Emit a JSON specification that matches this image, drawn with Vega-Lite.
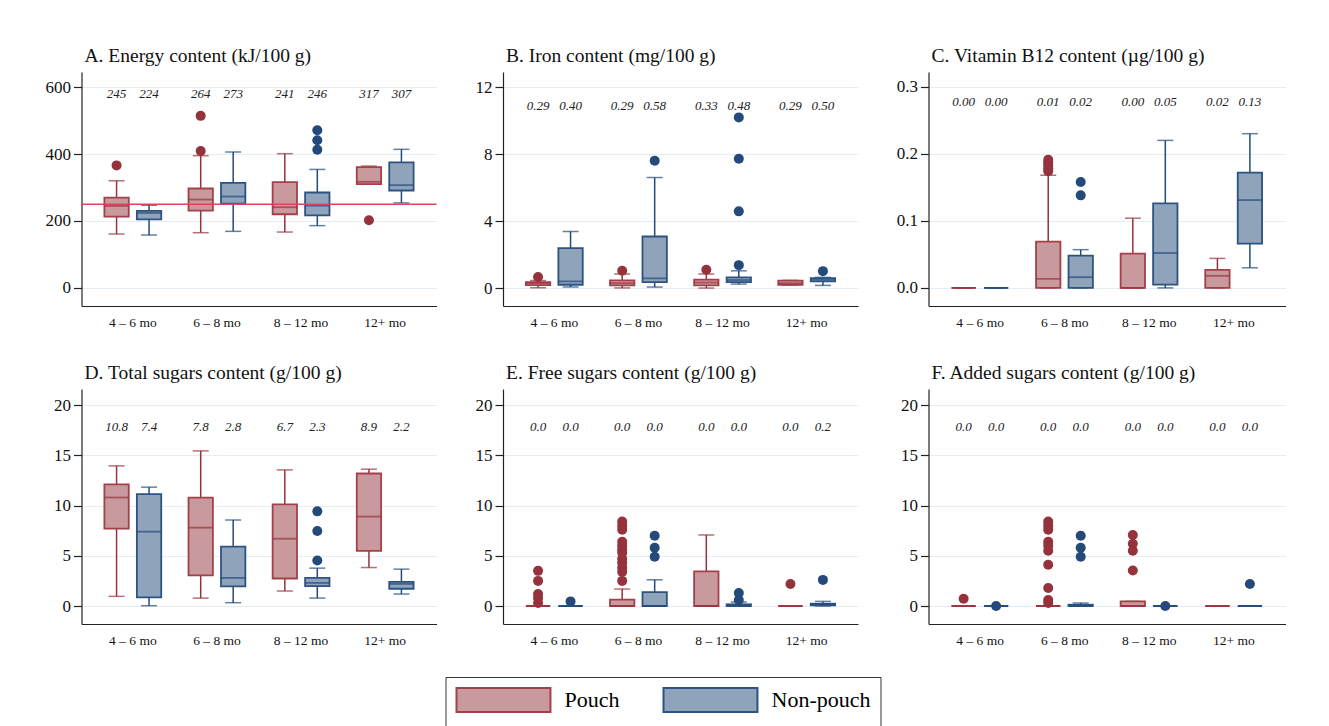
{
  "$schema": "https://vega.github.io/schema/vega-lite/v6.json",
  "background": "white",
  "padding": {"left": 44.5, "top": 45, "right": 10, "bottom": 5},
  "datasets": {
    "boxes": [
      {"panel": "A", "age": "4 – 6 mo", "type": "Pouch", "lo": 161, "q1": 213, "med": 245, "q3": 270, "hi": 320, "label": "245"},
      {"panel": "A", "age": "4 – 6 mo", "type": "Non-pouch", "lo": 158, "q1": 205, "med": 224, "q3": 230, "hi": 247, "label": "224"},
      {"panel": "A", "age": "6 – 8 mo", "type": "Pouch", "lo": 165, "q1": 231, "med": 264, "q3": 297, "hi": 395, "label": "264"},
      {"panel": "A", "age": "6 – 8 mo", "type": "Non-pouch", "lo": 169, "q1": 252, "med": 273, "q3": 314, "hi": 406, "label": "273"},
      {"panel": "A", "age": "8 – 12 mo", "type": "Pouch", "lo": 167, "q1": 220, "med": 241, "q3": 316, "hi": 401, "label": "241"},
      {"panel": "A", "age": "8 – 12 mo", "type": "Non-pouch", "lo": 186, "q1": 217, "med": 246, "q3": 285, "hi": 354, "label": "246"},
      {"panel": "A", "age": "12+ mo", "type": "Pouch", "lo": 310, "q1": 310, "med": 317, "q3": 361, "hi": 364, "label": "317"},
      {"panel": "A", "age": "12+ mo", "type": "Non-pouch", "lo": 254, "q1": 291, "med": 307, "q3": 375, "hi": 414, "label": "307"},

      {"panel": "B", "age": "4 – 6 mo", "type": "Pouch", "lo": 0.02, "q1": 0.18, "med": 0.29, "q3": 0.36, "hi": 0.45, "label": "0.29"},
      {"panel": "B", "age": "4 – 6 mo", "type": "Non-pouch", "lo": 0.06, "q1": 0.2, "med": 0.4, "q3": 2.39, "hi": 3.38, "label": "0.40"},
      {"panel": "B", "age": "6 – 8 mo", "type": "Pouch", "lo": 0.01, "q1": 0.16, "med": 0.29, "q3": 0.46, "hi": 0.84, "label": "0.29"},
      {"panel": "B", "age": "6 – 8 mo", "type": "Non-pouch", "lo": 0.06, "q1": 0.36, "med": 0.58, "q3": 3.08, "hi": 6.6, "label": "0.58"},
      {"panel": "B", "age": "8 – 12 mo", "type": "Pouch", "lo": 0.0, "q1": 0.16, "med": 0.33, "q3": 0.5, "hi": 0.84, "label": "0.33"},
      {"panel": "B", "age": "8 – 12 mo", "type": "Non-pouch", "lo": 0.24, "q1": 0.36, "med": 0.48, "q3": 0.64, "hi": 1.03, "label": "0.48"},
      {"panel": "B", "age": "12+ mo", "type": "Pouch", "lo": 0.18, "q1": 0.2, "med": 0.29, "q3": 0.44, "hi": 0.46, "label": "0.29"},
      {"panel": "B", "age": "12+ mo", "type": "Non-pouch", "lo": 0.16, "q1": 0.4, "med": 0.5, "q3": 0.6, "hi": 0.64, "label": "0.50"},

      {"panel": "C", "age": "4 – 6 mo", "type": "Pouch", "lo": 0, "q1": 0, "med": 0, "q3": 0, "hi": 0, "label": "0.00"},
      {"panel": "C", "age": "4 – 6 mo", "type": "Non-pouch", "lo": 0, "q1": 0, "med": 0, "q3": 0, "hi": 0, "label": "0.00"},
      {"panel": "C", "age": "6 – 8 mo", "type": "Pouch", "lo": 0, "q1": 0, "med": 0.0134, "q3": 0.069, "hi": 0.168, "label": "0.01"},
      {"panel": "C", "age": "6 – 8 mo", "type": "Non-pouch", "lo": 0, "q1": 0, "med": 0.016, "q3": 0.048, "hi": 0.057, "label": "0.02"},
      {"panel": "C", "age": "8 – 12 mo", "type": "Pouch", "lo": 0, "q1": 0, "med": 0, "q3": 0.051, "hi": 0.104, "label": "0.00"},
      {"panel": "C", "age": "8 – 12 mo", "type": "Non-pouch", "lo": 0, "q1": 0.005, "med": 0.052, "q3": 0.126, "hi": 0.22, "label": "0.05"},
      {"panel": "C", "age": "12+ mo", "type": "Pouch", "lo": 0, "q1": 0, "med": 0.018, "q3": 0.027, "hi": 0.044, "label": "0.02"},
      {"panel": "C", "age": "12+ mo", "type": "Non-pouch", "lo": 0.03, "q1": 0.066, "med": 0.131, "q3": 0.172, "hi": 0.23, "label": "0.13"},

      {"panel": "D", "age": "4 – 6 mo", "type": "Pouch", "lo": 0.96, "q1": 7.7, "med": 10.8, "q3": 12.1, "hi": 13.95, "label": "10.8"},
      {"panel": "D", "age": "4 – 6 mo", "type": "Non-pouch", "lo": 0.03, "q1": 0.86, "med": 7.4, "q3": 11.14, "hi": 11.83, "label": "7.4"},
      {"panel": "D", "age": "6 – 8 mo", "type": "Pouch", "lo": 0.79, "q1": 3.04, "med": 7.8, "q3": 10.78, "hi": 15.44, "label": "7.8"},
      {"panel": "D", "age": "6 – 8 mo", "type": "Non-pouch", "lo": 0.33, "q1": 1.95, "med": 2.8, "q3": 5.92, "hi": 8.56, "label": "2.8"},
      {"panel": "D", "age": "8 – 12 mo", "type": "Pouch", "lo": 1.49, "q1": 2.74, "med": 6.7, "q3": 10.12, "hi": 13.55, "label": "6.7"},
      {"panel": "D", "age": "8 – 12 mo", "type": "Non-pouch", "lo": 0.79, "q1": 1.98, "med": 2.3, "q3": 2.81, "hi": 3.77, "label": "2.3"},
      {"panel": "D", "age": "12+ mo", "type": "Pouch", "lo": 3.83, "q1": 5.49, "med": 8.9, "q3": 13.19, "hi": 13.62, "label": "8.9"},
      {"panel": "D", "age": "12+ mo", "type": "Non-pouch", "lo": 1.19, "q1": 1.72, "med": 2.2, "q3": 2.41, "hi": 3.67, "label": "2.2"},

      {"panel": "E", "age": "4 – 6 mo", "type": "Pouch", "lo": 0, "q1": 0, "med": 0, "q3": 0, "hi": 0, "label": "0.0"},
      {"panel": "E", "age": "4 – 6 mo", "type": "Non-pouch", "lo": 0, "q1": 0, "med": 0, "q3": 0, "hi": 0, "label": "0.0"},
      {"panel": "E", "age": "6 – 8 mo", "type": "Pouch", "lo": 0, "q1": 0, "med": 0, "q3": 0.63, "hi": 1.69, "label": "0.0"},
      {"panel": "E", "age": "6 – 8 mo", "type": "Non-pouch", "lo": 0, "q1": 0, "med": 0, "q3": 1.39, "hi": 2.61, "label": "0.0"},
      {"panel": "E", "age": "8 – 12 mo", "type": "Pouch", "lo": 0, "q1": 0, "med": 0, "q3": 3.44, "hi": 7.07, "label": "0.0"},
      {"panel": "E", "age": "8 – 12 mo", "type": "Non-pouch", "lo": 0, "q1": 0, "med": 0, "q3": 0.17, "hi": 0.4, "label": "0.0"},
      {"panel": "E", "age": "12+ mo", "type": "Pouch", "lo": 0, "q1": 0, "med": 0, "q3": 0, "hi": 0, "label": "0.0"},
      {"panel": "E", "age": "12+ mo", "type": "Non-pouch", "lo": 0, "q1": 0.07, "med": 0.2, "q3": 0.23, "hi": 0.46, "label": "0.2"},

      {"panel": "F", "age": "4 – 6 mo", "type": "Pouch", "lo": 0, "q1": 0, "med": 0, "q3": 0, "hi": 0, "label": "0.0"},
      {"panel": "F", "age": "4 – 6 mo", "type": "Non-pouch", "lo": 0, "q1": 0, "med": 0, "q3": 0, "hi": 0, "label": "0.0"},
      {"panel": "F", "age": "6 – 8 mo", "type": "Pouch", "lo": 0, "q1": 0, "med": 0, "q3": 0, "hi": 0, "label": "0.0"},
      {"panel": "F", "age": "6 – 8 mo", "type": "Non-pouch", "lo": 0, "q1": 0, "med": 0, "q3": 0.13, "hi": 0.3, "label": "0.0"},
      {"panel": "F", "age": "8 – 12 mo", "type": "Pouch", "lo": 0, "q1": 0, "med": 0, "q3": 0.46, "hi": 0.46, "label": "0.0"},
      {"panel": "F", "age": "8 – 12 mo", "type": "Non-pouch", "lo": 0, "q1": 0, "med": 0, "q3": 0, "hi": 0, "label": "0.0"},
      {"panel": "F", "age": "12+ mo", "type": "Pouch", "lo": 0, "q1": 0, "med": 0, "q3": 0, "hi": 0, "label": "0.0"},
      {"panel": "F", "age": "12+ mo", "type": "Non-pouch", "lo": 0, "q1": 0, "med": 0, "q3": 0, "hi": 0, "label": "0.0"}
    ],
    "outliers": [
      {"panel": "A", "age": "4 – 6 mo", "type": "Pouch", "value": 366},
      {"panel": "A", "age": "6 – 8 mo", "type": "Pouch", "value": 514},
      {"panel": "A", "age": "6 – 8 mo", "type": "Pouch", "value": 409},
      {"panel": "A", "age": "8 – 12 mo", "type": "Non-pouch", "value": 471},
      {"panel": "A", "age": "8 – 12 mo", "type": "Non-pouch", "value": 441},
      {"panel": "A", "age": "8 – 12 mo", "type": "Non-pouch", "value": 413},
      {"panel": "A", "age": "12+ mo", "type": "Pouch", "value": 202},

      {"panel": "B", "age": "4 – 6 mo", "type": "Pouch", "value": 0.66},
      {"panel": "B", "age": "6 – 8 mo", "type": "Pouch", "value": 1.03},
      {"panel": "B", "age": "6 – 8 mo", "type": "Non-pouch", "value": 7.6},
      {"panel": "B", "age": "8 – 12 mo", "type": "Pouch", "value": 1.09},
      {"panel": "B", "age": "8 – 12 mo", "type": "Non-pouch", "value": 10.19},
      {"panel": "B", "age": "8 – 12 mo", "type": "Non-pouch", "value": 7.72},
      {"panel": "B", "age": "8 – 12 mo", "type": "Non-pouch", "value": 4.58},
      {"panel": "B", "age": "8 – 12 mo", "type": "Non-pouch", "value": 1.37},
      {"panel": "B", "age": "12+ mo", "type": "Non-pouch", "value": 1.01},

      {"panel": "C", "age": "6 – 8 mo", "type": "Pouch", "value": 0.191},
      {"panel": "C", "age": "6 – 8 mo", "type": "Pouch", "value": 0.187},
      {"panel": "C", "age": "6 – 8 mo", "type": "Pouch", "value": 0.183},
      {"panel": "C", "age": "6 – 8 mo", "type": "Pouch", "value": 0.178},
      {"panel": "C", "age": "6 – 8 mo", "type": "Pouch", "value": 0.174},
      {"panel": "C", "age": "6 – 8 mo", "type": "Non-pouch", "value": 0.158},
      {"panel": "C", "age": "6 – 8 mo", "type": "Non-pouch", "value": 0.138},

      {"panel": "D", "age": "8 – 12 mo", "type": "Non-pouch", "value": 9.42},
      {"panel": "D", "age": "8 – 12 mo", "type": "Non-pouch", "value": 7.47},
      {"panel": "D", "age": "8 – 12 mo", "type": "Non-pouch", "value": 4.53},

      {"panel": "E", "age": "4 – 6 mo", "type": "Pouch", "value": 3.5},
      {"panel": "E", "age": "4 – 6 mo", "type": "Pouch", "value": 2.5},
      {"panel": "E", "age": "4 – 6 mo", "type": "Pouch", "value": 1.2},
      {"panel": "E", "age": "4 – 6 mo", "type": "Pouch", "value": 0.8},
      {"panel": "E", "age": "4 – 6 mo", "type": "Pouch", "value": 0.3},
      {"panel": "E", "age": "4 – 6 mo", "type": "Non-pouch", "value": 0.46},
      {"panel": "E", "age": "6 – 8 mo", "type": "Pouch", "value": 8.4},
      {"panel": "E", "age": "6 – 8 mo", "type": "Pouch", "value": 8.0},
      {"panel": "E", "age": "6 – 8 mo", "type": "Pouch", "value": 7.6},
      {"panel": "E", "age": "6 – 8 mo", "type": "Pouch", "value": 6.4},
      {"panel": "E", "age": "6 – 8 mo", "type": "Pouch", "value": 6.0},
      {"panel": "E", "age": "6 – 8 mo", "type": "Pouch", "value": 5.6},
      {"panel": "E", "age": "6 – 8 mo", "type": "Pouch", "value": 5.3},
      {"panel": "E", "age": "6 – 8 mo", "type": "Pouch", "value": 4.7},
      {"panel": "E", "age": "6 – 8 mo", "type": "Pouch", "value": 4.3},
      {"panel": "E", "age": "6 – 8 mo", "type": "Pouch", "value": 3.8},
      {"panel": "E", "age": "6 – 8 mo", "type": "Pouch", "value": 3.4},
      {"panel": "E", "age": "6 – 8 mo", "type": "Pouch", "value": 2.5},
      {"panel": "E", "age": "6 – 8 mo", "type": "Non-pouch", "value": 7.0},
      {"panel": "E", "age": "6 – 8 mo", "type": "Non-pouch", "value": 5.8},
      {"panel": "E", "age": "6 – 8 mo", "type": "Non-pouch", "value": 4.9},
      {"panel": "E", "age": "8 – 12 mo", "type": "Non-pouch", "value": 1.3},
      {"panel": "E", "age": "8 – 12 mo", "type": "Non-pouch", "value": 0.6},
      {"panel": "E", "age": "12+ mo", "type": "Pouch", "value": 2.2},
      {"panel": "E", "age": "12+ mo", "type": "Non-pouch", "value": 2.6},

      {"panel": "F", "age": "4 – 6 mo", "type": "Pouch", "value": 0.73},
      {"panel": "F", "age": "4 – 6 mo", "type": "Non-pouch", "value": 0.0},
      {"panel": "F", "age": "6 – 8 mo", "type": "Pouch", "value": 8.4},
      {"panel": "F", "age": "6 – 8 mo", "type": "Pouch", "value": 8.0},
      {"panel": "F", "age": "6 – 8 mo", "type": "Pouch", "value": 7.6},
      {"panel": "F", "age": "6 – 8 mo", "type": "Pouch", "value": 6.4},
      {"panel": "F", "age": "6 – 8 mo", "type": "Pouch", "value": 6.0},
      {"panel": "F", "age": "6 – 8 mo", "type": "Pouch", "value": 5.5},
      {"panel": "F", "age": "6 – 8 mo", "type": "Pouch", "value": 4.1},
      {"panel": "F", "age": "6 – 8 mo", "type": "Pouch", "value": 1.8},
      {"panel": "F", "age": "6 – 8 mo", "type": "Pouch", "value": 0.6},
      {"panel": "F", "age": "6 – 8 mo", "type": "Pouch", "value": 0.3},
      {"panel": "F", "age": "6 – 8 mo", "type": "Non-pouch", "value": 7.0},
      {"panel": "F", "age": "6 – 8 mo", "type": "Non-pouch", "value": 5.8},
      {"panel": "F", "age": "6 – 8 mo", "type": "Non-pouch", "value": 4.9},
      {"panel": "F", "age": "8 – 12 mo", "type": "Pouch", "value": 7.07},
      {"panel": "F", "age": "8 – 12 mo", "type": "Pouch", "value": 6.2},
      {"panel": "F", "age": "8 – 12 mo", "type": "Pouch", "value": 5.5},
      {"panel": "F", "age": "8 – 12 mo", "type": "Pouch", "value": 3.54},
      {"panel": "F", "age": "8 – 12 mo", "type": "Non-pouch", "value": 0.0},
      {"panel": "F", "age": "12+ mo", "type": "Non-pouch", "value": 2.2}
    ]
  },
  "columns": 3,
  "spacing": {"row": 33, "column": 37.5},
  "concat": [
    {
      "title": "A. Energy content (kJ/100 g)",
      "width": 355, "height": 234,
      "layer": [
        {
          "data": {"name": "boxes"},
          "transform": [{"filter": "datum.panel == 'A'"}],
          "encoding": {
            "x": {"field": "age", "type": "nominal", "sort": ["4 – 6 mo", "6 – 8 mo", "8 – 12 mo", "12+ mo"], "scale": {"paddingInner": 0, "paddingOuter": 0.11}, "title": null},
            "xOffset": {"field": "type", "type": "nominal", "sort": ["Pouch", "Non-pouch"], "scale": {"paddingInner": 0.25, "paddingOuter": 0.42}}
          },
          "layer": [
            {"mark": {"type": "rule", "strokeWidth": 1.5}, "encoding": {"y": {"field": "lo", "type": "quantitative", "title": null, "scale": {"domain": [-54, 645], "nice": false, "zero": false}, "axis": {"values": [0, 200, 400, 600]}}, "y2": {"field": "hi"}, "color": {"field": "type", "type": "nominal", "scale": {"domain": ["Non-pouch", "Pouch"], "range": ["#234a7a", "#95333d"]}, "legend": null}}},
            {"mark": {"type": "tick", "size": 16, "thickness": 1.5}, "encoding": {"y": {"field": "lo", "type": "quantitative", "title": null}, "color": {"field": "type", "type": "nominal", "legend": null}}},
            {"mark": {"type": "tick", "size": 16, "thickness": 1.5}, "encoding": {"y": {"field": "hi", "type": "quantitative", "title": null}, "color": {"field": "type", "type": "nominal", "legend": null}}},
            {"mark": {"type": "bar", "strokeWidth": 1.8}, "encoding": {"y": {"field": "q1", "type": "quantitative", "title": null}, "y2": {"field": "q3"},
              "fill": {"field": "type", "type": "nominal", "scale": {"domain": ["Pouch", "Non-pouch"], "range": ["#c89a9e", "#8fa4ba"]}, "legend": {"title": null, "orient": "none", "legendX": 364, "legendY": 605, "direction": "horizontal", "columns": 2, "symbolType": "M-1,-1H6.83V1H-1Z", "symbolSize": 576, "symbolStrokeWidth": 2, "labelFontSize": 22, "labelFont": "Liberation Serif", "labelColor": "#000", "labelOffset": 83, "columnPadding": 40, "padding": 10, "strokeColor": "#333", "labelLimit": 0}},
              "stroke": {"field": "type", "type": "nominal", "scale": {"domain": ["Pouch", "Non-pouch"], "range": ["#a3404a", "#2c5384"]}, "legend": {"title": null, "orient": "none", "legendX": 364, "legendY": 605, "direction": "horizontal", "columns": 2, "symbolType": "M-1,-1H6.83V1H-1Z", "symbolSize": 576, "symbolStrokeWidth": 2, "labelFontSize": 22, "labelFont": "Liberation Serif", "labelColor": "#000", "labelOffset": 83, "columnPadding": 40, "padding": 10, "strokeColor": "#333", "labelLimit": 0}}}},
            {"mark": {"type": "tick", "size": 24, "thickness": 1.8}, "encoding": {"y": {"field": "med", "type": "quantitative", "title": null}, "color": {"field": "type", "type": "nominal", "legend": null}}},
            {"mark": {"type": "text", "fontStyle": "italic", "fontSize": 13, "color": "#222"}, "encoding": {"y": {"datum": 579, "type": "quantitative"}, "text": {"field": "label"}}}
          ]
        },
        {
          "data": {"name": "outliers"},
          "transform": [{"filter": "datum.panel == 'A'"}],
          "mark": {"type": "circle", "size": 100, "opacity": 1},
          "encoding": {
            "x": {"field": "age", "type": "nominal", "sort": ["4 – 6 mo", "6 – 8 mo", "8 – 12 mo", "12+ mo"], "title": null},
            "xOffset": {"field": "type", "type": "nominal", "sort": ["Pouch", "Non-pouch"]},
            "y": {"field": "value", "type": "quantitative", "title": null},
            "color": {"field": "type", "type": "nominal", "legend": null}
          }
        },
        {
          "data": {"values": [{"reference": 250}]},
          "mark": {"type": "rule", "color": "#d8475a", "strokeWidth": 1.6},
          "encoding": {"y": {"field": "reference", "type": "quantitative", "title": null}}
        }
      ]
    },
    {
      "title": "B. Iron content (mg/100 g)",
      "width": 355, "height": 234,
      "layer": [
        {
          "data": {"name": "boxes"},
          "transform": [{"filter": "datum.panel == 'B'"}],
          "encoding": {
            "x": {"field": "age", "type": "nominal", "sort": ["4 – 6 mo", "6 – 8 mo", "8 – 12 mo", "12+ mo"], "scale": {"paddingInner": 0, "paddingOuter": 0.11}, "title": null},
            "xOffset": {"field": "type", "type": "nominal", "sort": ["Pouch", "Non-pouch"], "scale": {"paddingInner": 0.25, "paddingOuter": 0.42}}
          },
          "layer": [
            {"mark": {"type": "rule", "strokeWidth": 1.5}, "encoding": {"y": {"field": "lo", "type": "quantitative", "title": null, "scale": {"domain": [-1.07, 12.9], "nice": false, "zero": false}, "axis": {"values": [0, 2, 4, 6, 8, 10, 12]}}, "y2": {"field": "hi"}, "color": {"field": "type", "type": "nominal", "legend": null}}},
            {"mark": {"type": "tick", "size": 16, "thickness": 1.5}, "encoding": {"y": {"field": "lo", "type": "quantitative", "title": null}, "color": {"field": "type", "type": "nominal", "legend": null}}},
            {"mark": {"type": "tick", "size": 16, "thickness": 1.5}, "encoding": {"y": {"field": "hi", "type": "quantitative", "title": null}, "color": {"field": "type", "type": "nominal", "legend": null}}},
            {"mark": {"type": "bar", "strokeWidth": 1.8}, "encoding": {"y": {"field": "q1", "type": "quantitative", "title": null}, "y2": {"field": "q3"}, "fill": {"field": "type", "type": "nominal"}, "stroke": {"field": "type", "type": "nominal"}}},
            {"mark": {"type": "tick", "size": 24, "thickness": 1.8}, "encoding": {"y": {"field": "med", "type": "quantitative", "title": null}, "color": {"field": "type", "type": "nominal", "legend": null}}},
            {"mark": {"type": "text", "fontStyle": "italic", "fontSize": 13, "color": "#222"}, "encoding": {"y": {"datum": 10.87, "type": "quantitative"}, "text": {"field": "label"}}}
          ]
        },
        {
          "data": {"name": "outliers"},
          "transform": [{"filter": "datum.panel == 'B'"}],
          "mark": {"type": "circle", "size": 100, "opacity": 1},
          "encoding": {
            "x": {"field": "age", "type": "nominal", "sort": ["4 – 6 mo", "6 – 8 mo", "8 – 12 mo", "12+ mo"], "title": null},
            "xOffset": {"field": "type", "type": "nominal", "sort": ["Pouch", "Non-pouch"]},
            "y": {"field": "value", "type": "quantitative", "title": null},
            "color": {"field": "type", "type": "nominal", "legend": null}
          }
        }
      ]
    },
    {
      "title": "C. Vitamin B12 content (µg/100 g)",
      "width": 357, "height": 234,
      "layer": [
        {
          "data": {"name": "boxes"},
          "transform": [{"filter": "datum.panel == 'C'"}],
          "encoding": {
            "x": {"field": "age", "type": "nominal", "sort": ["4 – 6 mo", "6 – 8 mo", "8 – 12 mo", "12+ mo"], "scale": {"paddingInner": 0, "paddingOuter": 0.11}, "title": null},
            "xOffset": {"field": "type", "type": "nominal", "sort": ["Pouch", "Non-pouch"], "scale": {"paddingInner": 0.25, "paddingOuter": 0.42}}
          },
          "layer": [
            {"mark": {"type": "rule", "strokeWidth": 1.5}, "encoding": {"y": {"field": "lo", "type": "quantitative", "title": null, "scale": {"domain": [-0.027, 0.322], "nice": false, "zero": false}, "axis": {"values": [0, 0.1, 0.2, 0.3], "format": ".1f"}}, "y2": {"field": "hi"}, "color": {"field": "type", "type": "nominal", "legend": null}}},
            {"mark": {"type": "tick", "size": 16, "thickness": 1.5}, "encoding": {"y": {"field": "lo", "type": "quantitative", "title": null}, "color": {"field": "type", "type": "nominal", "legend": null}}},
            {"mark": {"type": "tick", "size": 16, "thickness": 1.5}, "encoding": {"y": {"field": "hi", "type": "quantitative", "title": null}, "color": {"field": "type", "type": "nominal", "legend": null}}},
            {"mark": {"type": "bar", "strokeWidth": 1.8}, "encoding": {"y": {"field": "q1", "type": "quantitative", "title": null}, "y2": {"field": "q3"}, "fill": {"field": "type", "type": "nominal"}, "stroke": {"field": "type", "type": "nominal"}}},
            {"mark": {"type": "tick", "size": 24, "thickness": 1.8}, "encoding": {"y": {"field": "med", "type": "quantitative", "title": null}, "color": {"field": "type", "type": "nominal", "legend": null}}},
            {"mark": {"type": "text", "fontStyle": "italic", "fontSize": 13, "color": "#222"}, "encoding": {"y": {"datum": 0.278, "type": "quantitative"}, "text": {"field": "label"}}}
          ]
        },
        {
          "data": {"name": "outliers"},
          "transform": [{"filter": "datum.panel == 'C'"}],
          "mark": {"type": "circle", "size": 100, "opacity": 1},
          "encoding": {
            "x": {"field": "age", "type": "nominal", "sort": ["4 – 6 mo", "6 – 8 mo", "8 – 12 mo", "12+ mo"], "title": null},
            "xOffset": {"field": "type", "type": "nominal", "sort": ["Pouch", "Non-pouch"]},
            "y": {"field": "value", "type": "quantitative", "title": null},
            "color": {"field": "type", "type": "nominal", "legend": null}
          }
        }
      ]
    },
    {
      "title": "D. Total sugars content (g/100 g)",
      "width": 355, "height": 235,
      "layer": [
        {
          "data": {"name": "boxes"},
          "transform": [{"filter": "datum.panel == 'D'"}],
          "encoding": {
            "x": {"field": "age", "type": "nominal", "sort": ["4 – 6 mo", "6 – 8 mo", "8 – 12 mo", "12+ mo"], "scale": {"paddingInner": 0, "paddingOuter": 0.11}, "title": null},
            "xOffset": {"field": "type", "type": "nominal", "sort": ["Pouch", "Non-pouch"], "scale": {"paddingInner": 0.25, "paddingOuter": 0.42}}
          },
          "layer": [
            {"mark": {"type": "rule", "strokeWidth": 1.5}, "encoding": {"y": {"field": "lo", "type": "quantitative", "title": null, "scale": {"domain": [-1.79, 21.6], "nice": false, "zero": false}, "axis": {"values": [0, 5, 10, 15, 20]}}, "y2": {"field": "hi"}, "color": {"field": "type", "type": "nominal", "legend": null}}},
            {"mark": {"type": "tick", "size": 16, "thickness": 1.5}, "encoding": {"y": {"field": "lo", "type": "quantitative", "title": null}, "color": {"field": "type", "type": "nominal", "legend": null}}},
            {"mark": {"type": "tick", "size": 16, "thickness": 1.5}, "encoding": {"y": {"field": "hi", "type": "quantitative", "title": null}, "color": {"field": "type", "type": "nominal", "legend": null}}},
            {"mark": {"type": "bar", "strokeWidth": 1.8}, "encoding": {"y": {"field": "q1", "type": "quantitative", "title": null}, "y2": {"field": "q3"}, "fill": {"field": "type", "type": "nominal"}, "stroke": {"field": "type", "type": "nominal"}}},
            {"mark": {"type": "tick", "size": 24, "thickness": 1.8}, "encoding": {"y": {"field": "med", "type": "quantitative", "title": null}, "color": {"field": "type", "type": "nominal", "legend": null}}},
            {"mark": {"type": "text", "fontStyle": "italic", "fontSize": 13, "color": "#222"}, "encoding": {"y": {"datum": 17.8, "type": "quantitative"}, "text": {"field": "label"}}}
          ]
        },
        {
          "data": {"name": "outliers"},
          "transform": [{"filter": "datum.panel == 'D'"}],
          "mark": {"type": "circle", "size": 100, "opacity": 1},
          "encoding": {
            "x": {"field": "age", "type": "nominal", "sort": ["4 – 6 mo", "6 – 8 mo", "8 – 12 mo", "12+ mo"], "title": null},
            "xOffset": {"field": "type", "type": "nominal", "sort": ["Pouch", "Non-pouch"]},
            "y": {"field": "value", "type": "quantitative", "title": null},
            "color": {"field": "type", "type": "nominal", "legend": null}
          }
        }
      ]
    },
    {
      "title": "E. Free sugars content (g/100 g)",
      "width": 355, "height": 235,
      "layer": [
        {
          "data": {"name": "boxes"},
          "transform": [{"filter": "datum.panel == 'E'"}],
          "encoding": {
            "x": {"field": "age", "type": "nominal", "sort": ["4 – 6 mo", "6 – 8 mo", "8 – 12 mo", "12+ mo"], "scale": {"paddingInner": 0, "paddingOuter": 0.11}, "title": null},
            "xOffset": {"field": "type", "type": "nominal", "sort": ["Pouch", "Non-pouch"], "scale": {"paddingInner": 0.25, "paddingOuter": 0.42}}
          },
          "layer": [
            {"mark": {"type": "rule", "strokeWidth": 1.5}, "encoding": {"y": {"field": "lo", "type": "quantitative", "title": null, "scale": {"domain": [-1.79, 21.6], "nice": false, "zero": false}, "axis": {"values": [0, 5, 10, 15, 20]}}, "y2": {"field": "hi"}, "color": {"field": "type", "type": "nominal", "legend": null}}},
            {"mark": {"type": "tick", "size": 16, "thickness": 1.5}, "encoding": {"y": {"field": "lo", "type": "quantitative", "title": null}, "color": {"field": "type", "type": "nominal", "legend": null}}},
            {"mark": {"type": "tick", "size": 16, "thickness": 1.5}, "encoding": {"y": {"field": "hi", "type": "quantitative", "title": null}, "color": {"field": "type", "type": "nominal", "legend": null}}},
            {"mark": {"type": "bar", "strokeWidth": 1.8}, "encoding": {"y": {"field": "q1", "type": "quantitative", "title": null}, "y2": {"field": "q3"}, "fill": {"field": "type", "type": "nominal"}, "stroke": {"field": "type", "type": "nominal"}}},
            {"mark": {"type": "tick", "size": 24, "thickness": 1.8}, "encoding": {"y": {"field": "med", "type": "quantitative", "title": null}, "color": {"field": "type", "type": "nominal", "legend": null}}},
            {"mark": {"type": "text", "fontStyle": "italic", "fontSize": 13, "color": "#222"}, "encoding": {"y": {"datum": 17.8, "type": "quantitative"}, "text": {"field": "label"}}}
          ]
        },
        {
          "data": {"name": "outliers"},
          "transform": [{"filter": "datum.panel == 'E'"}],
          "mark": {"type": "circle", "size": 100, "opacity": 1},
          "encoding": {
            "x": {"field": "age", "type": "nominal", "sort": ["4 – 6 mo", "6 – 8 mo", "8 – 12 mo", "12+ mo"], "title": null},
            "xOffset": {"field": "type", "type": "nominal", "sort": ["Pouch", "Non-pouch"]},
            "y": {"field": "value", "type": "quantitative", "title": null},
            "color": {"field": "type", "type": "nominal", "legend": null}
          }
        }
      ]
    },
    {
      "title": "F. Added sugars content (g/100 g)",
      "width": 357, "height": 235,
      "layer": [
        {
          "data": {"name": "boxes"},
          "transform": [{"filter": "datum.panel == 'F'"}],
          "encoding": {
            "x": {"field": "age", "type": "nominal", "sort": ["4 – 6 mo", "6 – 8 mo", "8 – 12 mo", "12+ mo"], "scale": {"paddingInner": 0, "paddingOuter": 0.11}, "title": null},
            "xOffset": {"field": "type", "type": "nominal", "sort": ["Pouch", "Non-pouch"], "scale": {"paddingInner": 0.25, "paddingOuter": 0.42}}
          },
          "layer": [
            {"mark": {"type": "rule", "strokeWidth": 1.5}, "encoding": {"y": {"field": "lo", "type": "quantitative", "title": null, "scale": {"domain": [-1.79, 21.6], "nice": false, "zero": false}, "axis": {"values": [0, 5, 10, 15, 20]}}, "y2": {"field": "hi"}, "color": {"field": "type", "type": "nominal", "legend": null}}},
            {"mark": {"type": "tick", "size": 16, "thickness": 1.5}, "encoding": {"y": {"field": "lo", "type": "quantitative", "title": null}, "color": {"field": "type", "type": "nominal", "legend": null}}},
            {"mark": {"type": "tick", "size": 16, "thickness": 1.5}, "encoding": {"y": {"field": "hi", "type": "quantitative", "title": null}, "color": {"field": "type", "type": "nominal", "legend": null}}},
            {"mark": {"type": "bar", "strokeWidth": 1.8}, "encoding": {"y": {"field": "q1", "type": "quantitative", "title": null}, "y2": {"field": "q3"}, "fill": {"field": "type", "type": "nominal"}, "stroke": {"field": "type", "type": "nominal"}}},
            {"mark": {"type": "tick", "size": 24, "thickness": 1.8}, "encoding": {"y": {"field": "med", "type": "quantitative", "title": null}, "color": {"field": "type", "type": "nominal", "legend": null}}},
            {"mark": {"type": "text", "fontStyle": "italic", "fontSize": 13, "color": "#222"}, "encoding": {"y": {"datum": 17.8, "type": "quantitative"}, "text": {"field": "label"}}}
          ]
        },
        {
          "data": {"name": "outliers"},
          "transform": [{"filter": "datum.panel == 'F'"}],
          "mark": {"type": "circle", "size": 100, "opacity": 1},
          "encoding": {
            "x": {"field": "age", "type": "nominal", "sort": ["4 – 6 mo", "6 – 8 mo", "8 – 12 mo", "12+ mo"], "title": null},
            "xOffset": {"field": "type", "type": "nominal", "sort": ["Pouch", "Non-pouch"]},
            "y": {"field": "value", "type": "quantitative", "title": null},
            "color": {"field": "type", "type": "nominal", "legend": null}
          }
        }
      ]
    }
  ],
  "config": {
    "font": "Liberation Serif",
    "view": {"stroke": null},
    "axis": {"labelFont": "Liberation Serif", "labelColor": "#111", "domainColor": "#222", "tickColor": "#222", "domainWidth": 1.2, "tickWidth": 1.2},
    "axisY": {"grid": true, "gridColor": "#e4edf4", "gridWidth": 1.2, "tickSize": 8, "labelFontSize": 17, "labelPadding": 3, "minExtent": 0},
    "axisX": {"ticks": false, "grid": false, "labelFontSize": 13.5, "labelPadding": 9, "labelAngle": 0},
    "title": {"anchor": "start", "frame": "group", "fontSize": 19.5, "font": "Liberation Serif", "fontWeight": "normal", "color": "#111", "offset": 6, "dx": 3}
  }
}
